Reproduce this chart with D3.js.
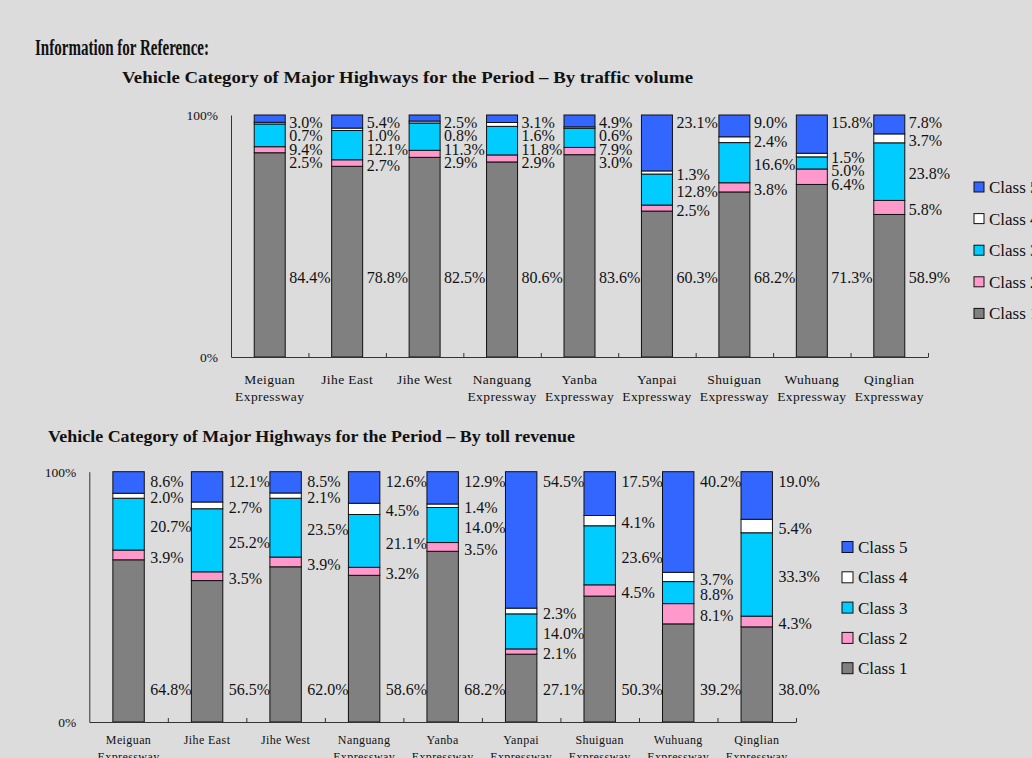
<!DOCTYPE html>
<html>
<head>
<meta charset="utf-8">
<script src="https://cdn.jsdelivr.net/npm/d3@7"></script>
<style>
  html, body { margin: 0; padding: 0; background: #dcdcdc; }
  svg { display: block; }
  text { font-family: "Liberation Serif", "Times New Roman", serif; fill: #111; }
</style>
</head>
<body>
<svg id="chart" width="1032" height="758"></svg>
<script>
// ---------- data ----------
const categories = ["Meiguan Expressway", "Jihe East", "Jihe West", "Nanguang Expressway",
  "Yanba Expressway", "Yanpai Expressway", "Shuiguan Expressway", "Wuhuang Expressway", "Qinglian Expressway"];
const classNames = ["Class 1", "Class 2", "Class 3", "Class 4", "Class 5"];
const classColors = ["#808080", "#ff99cc", "#00ccff", "#ffffff", "#3366ff"];
const yTickValues = [0, 100];

// By traffic volume (%)
const volClass1 = [84.4, 78.8, 82.5, 80.6, 83.6, 60.3, 68.2, 71.3, 58.9];
const volClass2 = [2.5, 2.7, 2.9, 2.9, 3.0, 2.5, 3.8, 6.4, 5.8];
const volClass3 = [9.4, 12.1, 11.3, 11.8, 7.9, 12.8, 16.6, 5.0, 23.8];
const volClass4 = [0.7, 1.0, 0.8, 1.6, 0.6, 1.3, 2.4, 1.5, 3.7];
const volClass5 = [3.0, 5.4, 2.5, 3.1, 4.9, 23.1, 9.0, 15.8, 7.8];

// By toll revenue (%)
const revClass1 = [64.8, 56.5, 62.0, 58.6, 68.2, 27.1, 50.3, 39.2, 38.0];
const revClass2 = [3.9, 3.5, 3.9, 3.2, 3.5, 2.1, 4.5, 8.1, 4.3];
const revClass3 = [20.7, 25.2, 23.5, 21.1, 14.0, 14.0, 23.6, 8.8, 33.3];
const revClass4 = [2.0, 2.7, 2.1, 4.5, 1.4, 2.3, 4.1, 3.7, 5.4];
const revClass5 = [8.6, 12.1, 8.5, 12.6, 12.9, 54.5, 17.5, 40.2, 19.0];

const svg = d3.select("#chart");

// main heading
svg.append("text")
  .attr("x", 35).attr("y", 55)
  .attr("font-size", 23).attr("font-weight", "bold")
  .attr("textLength", 174).attr("lengthAdjust", "spacingAndGlyphs")
  .text("Information for Reference:");

function drawChart(opt) {
  const series = opt.series;
  const rows = categories.map((c, i) => {
    const r = { cat: c };
    series.forEach((s, k) => r[classNames[k]] = s[i]);
    return r;
  });
  const stack = d3.stack().keys(classNames)(rows);

  const x = d3.scaleBand().domain(categories).range([opt.x0, opt.x1]).padding(0);
  const xi = d3.scaleLinear().domain([0, categories.length]).range([opt.x0, opt.x1]);
  const y = d3.scaleLinear().domain([0, 100]).range([opt.y0, opt.y1]);
  const bw = x.bandwidth() * 0.4;

  const g = svg.append("g");

  // title
  g.append("text")
    .attr("x", opt.titleX).attr("y", opt.titleY)
    .attr("font-size", opt.titleSize).attr("font-weight", "bold")
    .attr("textLength", opt.titleLen).attr("lengthAdjust", "spacingAndGlyphs")
    .text(opt.title);

  // bars
  stack.forEach((layer, k) => {
    g.append("g").selectAll("rect").data(layer).join("rect")
      .attr("x", d => x(d.data.cat) + (x.bandwidth() - bw) / 2)
      .attr("width", bw)
      .attr("y", d => y(d[1]))
      .attr("height", d => y(d[0]) - y(d[1]))
      .attr("fill", classColors[k])
      .attr("stroke", "#111")
      .attr("stroke-width", 1);
  });

  // value labels
  categories.forEach((c, i) => {
    const lx = x(c) + (x.bandwidth() + bw) / 2 + opt.labelDx;
    // class 5 label near the top of the bar, others at segment middles pushed down
    let prev = y(100) + opt.topLabelDy;
    const ys = [];
    ys[4] = prev;
    for (let k = 3; k >= 1; k--) {
      const seg = stack[k][i];
      let yy = y((seg[0] + seg[1]) / 2) + 2;
      if (yy < prev + opt.minGap) yy = prev + opt.minGap;
      ys[k] = yy;
      prev = yy;
    }
    ys[0] = y(opt.class1LabelAt);
    for (let k = 0; k < 5; k++) {
      g.append("text")
        .attr("x", lx).attr("y", ys[k])
        .attr("dy", "0.35em")
        .attr("font-size", opt.valueSize)
        .text(series[k][i].toFixed(1) + "%");
    }
  });

  // y axis
  const yAxis = g.append("g")
    .attr("transform", `translate(${opt.x0},0)`)
    .call(d3.axisLeft(y).tickValues(yTickValues).tickFormat(d => d + "%").tickSize(0).tickPadding(13));
  yAxis.select(".domain").attr("stroke", "#333");
  yAxis.selectAll("text").attr("font-size", opt.tickSize).attr("font-family", "Liberation Serif").attr("fill", "#111");

  // x axis (ticks at band boundaries, pointing inward)
  const xAxis = g.append("g")
    .attr("transform", `translate(0,${opt.y0})`)
    .call(d3.axisBottom(xi).tickValues(d3.range(1, categories.length + 1)).tickFormat("").tickSize(-4).tickSizeOuter(0));
  xAxis.select(".domain").attr("stroke", "#333");
  xAxis.selectAll(".tick line").attr("stroke", "#333");

  // category labels
  categories.forEach(c => {
    const parts = c.split(" Expressway");
    const lines = parts.length > 1 ? [parts[0], "Expressway"] : [c];
    lines.forEach((ln, j) => {
      g.append("text")
        .attr("x", x(c) + x.bandwidth() / 2)
        .attr("y", opt.catY + j * opt.catLine)
        .attr("text-anchor", "middle")
        .attr("font-size", opt.catSize)
        .attr("letter-spacing", 0.4)
        .text(ln);
    });
  });

  // legend
  const leg = g.append("g");
  for (let k = 4; k >= 0; k--) {
    const row = 4 - k;
    const cy = opt.legY + row * opt.legStep;
    leg.append("rect")
      .attr("x", opt.legX).attr("y", cy - opt.legBox / 2)
      .attr("width", opt.legBox).attr("height", opt.legBox)
      .attr("fill", classColors[k]).attr("stroke", "#111").attr("stroke-width", 1);
    leg.append("text")
      .attr("x", opt.legX + opt.legBox + 5).attr("y", cy)
      .attr("dy", "0.35em")
      .attr("font-size", 17)
      .text(classNames[k]);
  }
}

drawChart({
  series: [volClass1, volClass2, volClass3, volClass4, volClass5],
  title: "Vehicle Category  of Major Highways for the Period  \u2013 By traffic volume",
  titleX: 122, titleY: 83, titleSize: 17.5, titleLen: 571,
  x0: 231, x1: 928, y0: 357, y1: 115,
  labelDx: 4, topLabelDy: 7, minGap: 13.5, class1LabelAt: 33, valueSize: 16,
  tickSize: 13.5, catY: 384, catLine: 17, catSize: 13.5,
  legX: 974, legY: 187, legStep: 31.6, legBox: 10
});

drawChart({
  series: [revClass1, revClass2, revClass3, revClass4, revClass5],
  title: "Vehicle Category  of Major Highways for the Period  \u2013 By toll  revenue",
  titleX: 48, titleY: 442, titleSize: 17.5, titleLen: 527,
  x0: 89.3, x1: 796, y0: 722, y1: 471.7,
  labelDx: 6, topLabelDy: 10, minGap: 13.5, class1LabelAt: 13, valueSize: 16,
  tickSize: 13.5, catY: 744, catLine: 17, catSize: 12,
  legX: 842, legY: 547, legStep: 30.3, legBox: 11
});
</script>
</body>
</html>
